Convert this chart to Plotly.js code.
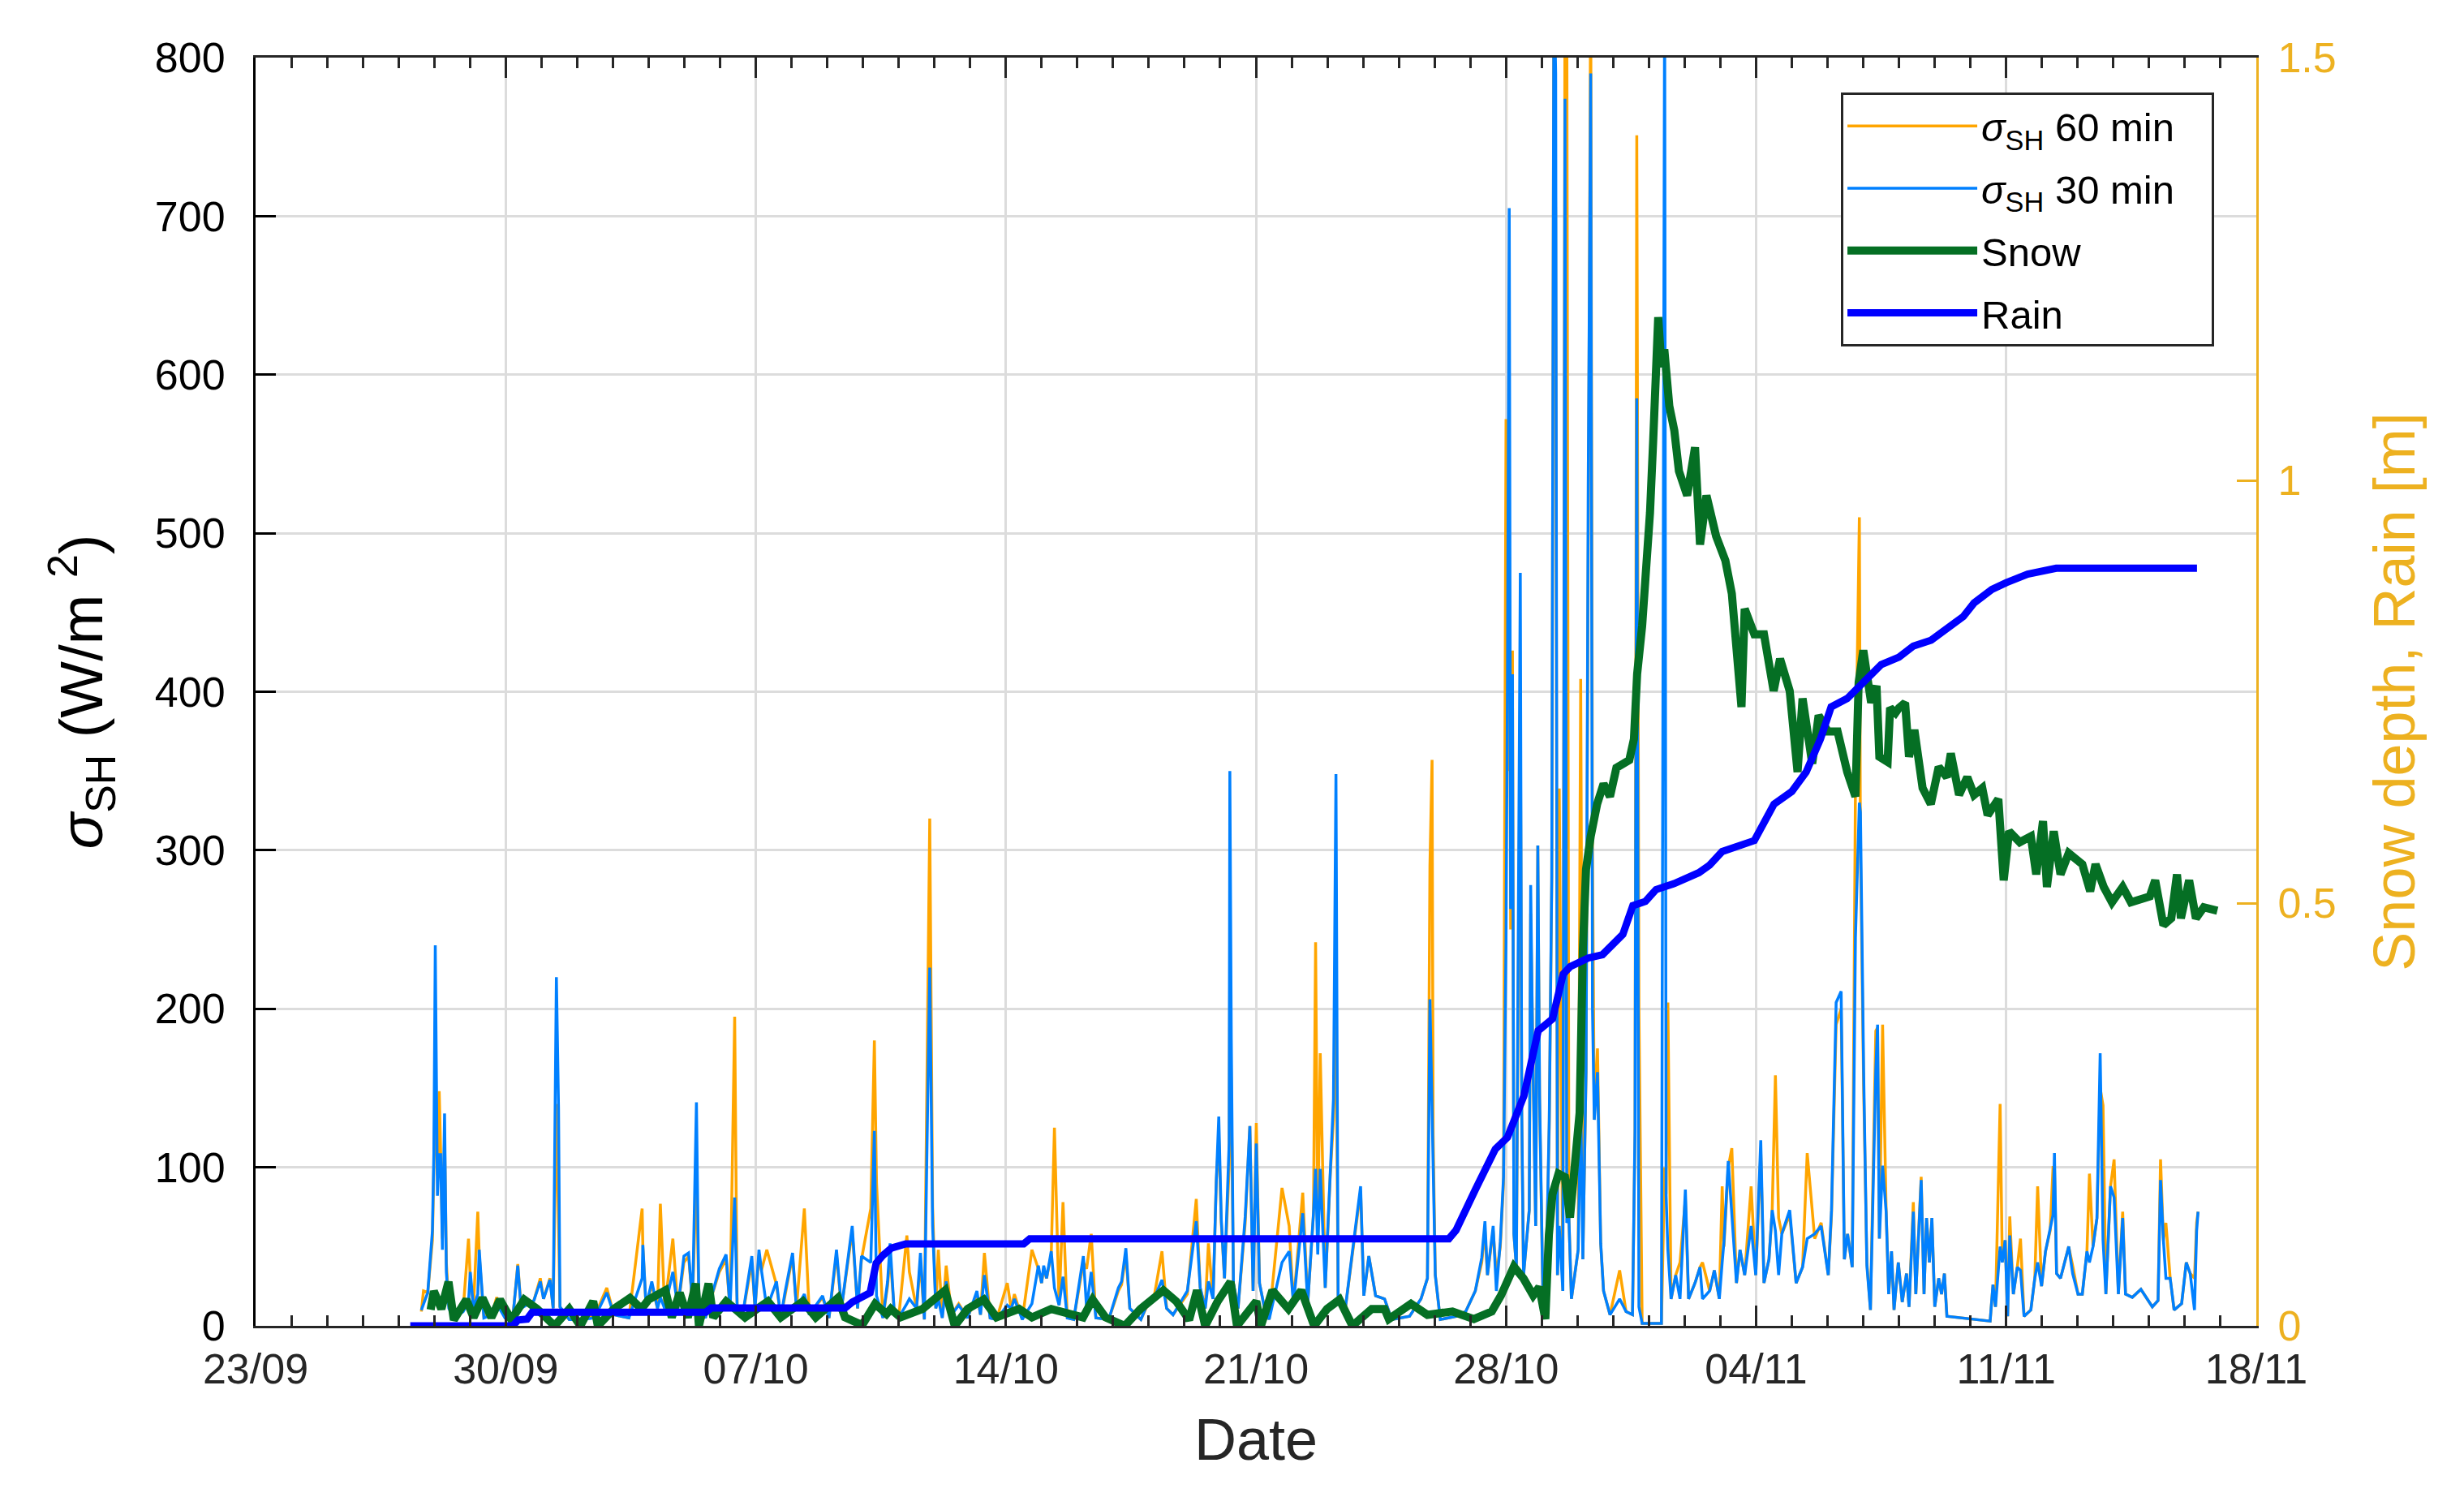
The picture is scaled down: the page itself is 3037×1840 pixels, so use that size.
<!DOCTYPE html>
<html>
<head>
<meta charset="utf-8">
<script src="https://cdn.plot.ly/plotly-3.0.1.min.js"></script>
<style>
  body { margin: 0; background: #fff; }
  #plot { width: 3037px; height: 1840px; }
</style>
</head>
<body>
<div id="plot"></div>
<script>
// all times are days after 23/09 00:00
// sigma_SH (W/m2), 30 min and 60 min
var sigDay = [4.64,4.70,4.82,4.95,4.99,5.03,5.09,5.14,5.18,5.23,5.29,5.34,5.41,5.55,5.81,5.96,6.01,6.10,6.22,6.26,6.39,6.62,6.75,6.98,7.20,7.34,7.43,7.79,7.97,8.06,8.24,8.33,8.42,8.48,8.52,8.78,9.13,9.49,9.83,10.03,10.45,10.82,10.84,10.93,11.09,11.25,11.33,11.45,11.68,11.82,11.99,12.12,12.23,12.34,12.41,12.59,12.73,12.98,13.17,13.28,13.41,13.48,13.62,13.89,13.98,14.09,14.16,14.31,14.58,14.70,14.81,15.03,15.14,15.36,15.50,15.87,16.05,16.26,16.40,16.70,16.85,16.96,17.22,17.32,17.38,17.56,17.69,17.76,17.87,18.00,18.23,18.30,18.50,18.61,18.72,18.87,18.95,19.04,19.11,19.22,19.33,19.48,19.68,19.93,20.19,20.29,20.40,20.56,20.74,21.04,21.15,21.24,21.46,21.73,21.91,22.00,22.06,22.14,22.27,22.36,22.49,22.60,22.72,22.90,23.17,23.26,23.39,23.52,23.88,24.15,24.24,24.36,24.47,24.78,25.00,25.14,25.37,25.50,25.68,26.08,26.33,26.44,26.58,26.67,26.80,26.89,26.96,27.03,27.12,27.25,27.27,27.31,27.37,27.50,27.70,27.83,27.92,28.01,28.10,28.24,28.37,28.73,28.93,29.05,29.31,29.45,29.61,29.67,29.73,29.80,29.94,30.08,30.17,30.24,30.30,30.48,30.93,31.02,31.16,31.35,31.60,31.80,32.30,32.62,32.80,32.87,32.93,32.96,33.02,33.16,33.60,33.87,34.14,34.32,34.41,34.48,34.64,34.73,34.84,34.93,35.00,35.04,35.09,35.13,35.18,35.22,35.29,35.40,35.44,35.49,35.65,35.69,35.74,35.83,35.89,35.94,36.03,36.12,36.21,36.28,36.34,36.39,36.44,36.49,36.59,36.65,36.70,36.76,36.83,37.02,37.09,37.15,37.24,37.30,37.37,37.42,37.47,37.56,37.65,37.73,37.91,38.18,38.36,38.54,38.61,38.66,38.72,38.81,39.35,39.44,39.48,39.53,39.62,39.75,39.87,40.02,40.11,40.29,40.43,40.50,40.70,40.83,40.97,41.05,41.10,41.22,41.32,41.45,41.55,41.68,41.86,41.99,42.13,42.22,42.36,42.45,42.54,42.63,42.72,42.94,43.12,43.30,43.43,43.64,43.82,44.02,44.11,44.24,44.38,44.47,44.56,44.69,44.78,44.89,44.92,45.01,45.10,45.20,45.35,45.40,45.45,45.54,45.64,45.71,45.79,45.86,45.98,46.09,46.21,46.28,46.40,46.47,46.62,46.70,46.77,46.85,46.92,47.00,47.11,47.19,47.27,47.34,48.55,48.63,48.70,48.83,48.89,48.97,49.04,49.10,49.20,49.31,49.40,49.50,49.69,49.80,49.88,49.99,50.10,50.23,50.31,50.35,50.41,50.52,50.63,50.75,50.86,51.01,51.13,51.26,51.33,51.43,51.54,51.63,51.71,51.79,51.92,52.02,52.14,52.26,52.34,52.53,52.77,53.09,53.25,53.32,53.40,53.47,53.59,53.70,53.91,54.04,54.15,54.27,54.33,54.37];
var sig30 = [9.9,14,21,60,109,240,82,108,108,48,134,34,11,5,9,15,34,11,20,48,5,7,14,5,5,38,11,16,28,17,29,11,220,137,12,4,4,5,21,7,5,30,51,12,28,11,18,11,34,11,44,46,14,141,11,5,16,36,45,11,81,11,5,44,11,48,35,11,28,5,20,46,11,20,7,19,5,48,11,63,11,44,40,123,19,5,28,52,11,5,14,17,11,46,4,226,63,11,17,5,28,7,13,5,22,7,32,5,4,13,11,17,4,14,38,27,38,30,47,24,13,31,5,4,44,11,34,5,4,24,28,49,11,4,16,17,29,11,7,22,66,24,11,28,17,91,132,67,30,115,350,181,27,11,69,126,22,115,27,11,4,40,47,14,71,14,71,99,45,99,24,98,143,348,19,7,88,19,44,19,17,4,6,17,30,206,140,94,32,4,6,9,22,43,66,32,63,22,53,94,242,406,705,263,411,58,37,475,135,32,73,278,186,63,303,145,22,27,130,283,850,790,32,63,22,774,65,68,17,48,142,42,160,529,790,200,130,160,52,22,7,17,9,7,124,585,12,1.5,1.5,850,83,48,17,32,17,86,17,27,37,17,22,35,17,40,53,104,68,27,48,32,63,32,117,27,42,73,60,32,58,73,27,37,55,58,63,32,73,204,211,42,58,37,245,330,324,160,38,10,161,190,55,101,72,20,47,10,40,15,33,12,72,20,92,20,68,40,68,12,30,20,33,6,3,26,12,50,40,54,6,57,20,37,35,6,10,30,40,25,47,60,70,109,33,30,40,50,33,20,20,47,40,50,68,172,54,20,88,81,20,68,20,18,23,12,16,92,54,30,30,10,14,40,33,10,60,72];
var sig60 = [9,22,21,54,100,150,95,148,110,55,120,40,12,6,10,55,30,12,72,45,6,8,18,6,5,39,12,16,30,17,30,11,140,60,12,4,4,6,24,7,5,74,50,12,26,11,77,11,55,11,40,44,14,100,11,5,16,34,42,11,195,11,5,40,11,45,35,48,26,5,18,44,11,74,7,18,5,45,11,60,11,42,74,180,90,5,25,45,11,5,57,34,11,40,4,320,75,11,48,5,38,7,14,5,20,7,46,5,4,27,11,20,4,48,36,27,36,30,45,125,13,78,5,4,40,36,58,5,4,22,26,45,11,4,15,17,47,11,7,20,80,24,11,52,17,91,120,65,30,100,230,160,27,11,65,126,22,128,27,11,4,87,63,14,84,14,70,242,60,172,24,95,130,200,19,7,85,19,44,19,17,4,6,17,30,290,357,120,32,4,6,9,22,40,60,32,60,32,50,90,572,350,500,250,426,58,37,400,130,32,73,260,180,63,303,140,22,27,125,280,850,700,32,339,22,850,850,68,17,48,408,42,160,500,850,300,130,175,52,22,7,35,9,7,120,751,200,1.5,1.5,100,83,204,17,32,40,80,17,27,37,40,22,35,17,88,50,100,112,27,48,32,88,32,110,27,42,73,158,68,58,70,27,37,109,55,65,32,70,190,200,42,58,37,339,510,300,150,40,10,186,188,55,190,72,20,47,10,40,15,33,12,78,20,94,20,68,40,68,12,30,20,33,6,3,26,12,140,40,54,6,69,20,37,55,6,10,30,88,25,47,60,100,100,33,30,40,50,38,20,20,47,96,50,68,150,139,20,88,105,20,72,20,18,23,12,16,105,54,65,30,10,14,40,33,30,65,72];

// snow depth (m)
var snowDay = [4.90,4.99,5.20,5.40,5.55,5.90,6.10,6.35,6.60,6.84,7.16,7.52,7.88,8.37,8.78,9.09,9.45,9.58,10.03,10.48,10.80,11.00,11.47,11.65,11.87,12.10,12.32,12.41,12.68,12.81,13.17,13.70,14.34,14.70,15.32,15.68,16.30,16.50,16.98,17.34,17.66,17.78,18.05,18.67,19.30,19.57,19.93,20.38,20.74,21.37,21.73,22.27,23.16,23.43,23.79,24.33,24.77,25.41,25.77,26.13,26.35,26.58,26.93,27.29,27.47,28.01,28.14,28.46,28.91,29.27,29.63,29.99,30.34,30.70,31.24,31.60,31.72,32.34,32.80,33.50,34.10,34.60,34.86,35.22,35.49,35.76,35.93,36.10,36.20,36.30,36.47,36.65,36.79,36.92,37.06,37.15,37.24,37.37,37.55,37.73,37.91,38.09,38.45,38.58,38.67,38.81,38.94,39.03,39.12,39.26,39.35,39.43,39.57,39.71,39.84,40.07,40.29,40.43,40.61,40.88,41.14,41.32,41.59,41.68,41.95,42.22,42.49,42.67,42.94,43.16,43.30,43.57,43.75,44.01,44.28,44.55,44.78,44.87,45.00,45.22,45.37,45.45,45.68,45.75,45.90,46.00,46.17,46.28,46.43,46.66,46.89,47.11,47.34,47.45,47.68,47.91,48.10,48.33,48.48,48.78,48.93,49.08,49.38,49.69,49.84,50.03,50.14,50.33,50.52,50.75,51.13,51.35,51.50,51.73,51.96,52.26,52.49,53.02,53.17,53.40,53.62,53.78,53.89,54.12,54.31,54.53,54.91];
var snowDepth = [0.019,0.041,0.020,0.052,0.007,0.031,0.010,0.033,0.010,0.031,0.007,0.031,0.020,0.000,0.020,0.000,0.029,0.000,0.020,0.033,0.020,0.031,0.042,0.010,0.039,0.010,0.050,0.000,0.050,0.010,0.029,0.010,0.029,0.010,0.029,0.010,0.033,0.010,0.001,0.026,0.014,0.020,0.010,0.020,0.042,0.000,0.020,0.031,0.010,0.020,0.010,0.020,0.010,0.031,0.010,0.000,0.020,0.042,0.029,0.007,0.042,0.000,0.029,0.052,0.000,0.029,0.000,0.042,0.020,0.042,0.000,0.020,0.031,0.000,0.020,0.020,0.008,0.026,0.013,0.017,0.008,0.017,0.036,0.070,0.056,0.036,0.046,0.008,0.108,0.156,0.180,0.176,0.128,0.195,0.252,0.444,0.540,0.579,0.617,0.641,0.626,0.660,0.669,0.694,0.771,0.828,0.905,0.962,1.048,1.193,1.134,1.155,1.088,1.059,1.011,0.982,1.039,0.924,0.982,0.934,0.905,0.866,0.732,0.848,0.818,0.818,0.751,0.789,0.751,0.655,0.742,0.665,0.722,0.703,0.703,0.655,0.626,0.761,0.799,0.737,0.757,0.673,0.667,0.731,0.725,0.731,0.737,0.673,0.705,0.636,0.617,0.661,0.649,0.677,0.628,0.649,0.628,0.636,0.604,0.623,0.527,0.585,0.572,0.579,0.534,0.597,0.519,0.585,0.534,0.559,0.546,0.514,0.546,0.519,0.501,0.519,0.501,0.508,0.527,0.474,0.482,0.534,0.482,0.527,0.482,0.495,0.491];

// cumulative rain (m)
var rainDay = [4.33,7.20,7.35,7.60,7.74,12.60,12.75,16.50,16.70,17.20,17.37,17.55,17.80,18.00,18.20,21.50,21.67,33.40,33.60,34.14,34.70,35.04,35.50,35.90,36.30,36.60,36.80,37.30,37.70,38.27,38.55,38.90,39.20,39.70,40.10,40.40,40.70,41.05,41.95,42.20,42.50,43.00,43.40,43.80,44.10,44.55,45.00,45.50,46.00,46.40,46.90,47.30,47.80,48.10,48.60,49.00,49.60,50.40,54.34];
var rainSum = [0,0,0.007,0.008,0.016,0.016,0.021,0.021,0.028,0.039,0.074,0.083,0.092,0.095,0.097,0.097,0.103,0.103,0.113,0.161,0.209,0.223,0.272,0.349,0.363,0.416,0.425,0.435,0.439,0.463,0.497,0.502,0.516,0.523,0.531,0.536,0.545,0.561,0.574,0.593,0.617,0.632,0.655,0.694,0.732,0.742,0.761,0.782,0.791,0.804,0.811,0.823,0.839,0.855,0.871,0.879,0.889,0.896,0.896];

var start = Date.UTC(2016, 8, 23);
function toDate(d) {
  return new Date(start + d * 86400000).toISOString().slice(0, 19).replace('T', ' ');
}

var axisOrange = '#EDB120';
var dark = '#262626';
var DAY = 86400000;
var pad = '\u00a0\u00a0\u00a0';

var data = [
  {x: sigDay.map(toDate), y: sig60, type: 'scatter', mode: 'lines', legendgroup: 'a',
   name: '<i>σ</i><sub>SH</sub> 60 min' + pad, line: {color: '#FFA500', width: 3.5}},
  {x: sigDay.map(toDate), y: sig30, type: 'scatter', mode: 'lines', legendgroup: 'b',
   name: '<i>σ</i><sub>SH</sub> 30 min', line: {color: '#0080FF', width: 3.5}},
  {x: snowDay.map(toDate), y: snowDepth, type: 'scatter', mode: 'lines', yaxis: 'y2', legendgroup: 'c',
   name: 'Snow', line: {color: '#056F24', width: 10}},
  {x: rainDay.map(toDate), y: rainSum, type: 'scatter', mode: 'lines', yaxis: 'y2', legendgroup: 'd',
   name: 'Rain', line: {color: '#0000FF', width: 9}}
];

var layout = {
  width: 3037,
  height: 1840,
  margin: {l: 315, r: 256, t: 71, b: 206},
  paper_bgcolor: '#fff',
  plot_bgcolor: '#fff',
  font: {family: 'Liberation Sans, Arial, sans-serif', size: 52, color: '#000'},
  showlegend: true,
  legend: {
    x: 0.7924, y: 0.9725, xanchor: 'left', yanchor: 'top',
    bgcolor: '#fff', bordercolor: dark, borderwidth: 3,
    font: {size: 49, color: '#000'}, itemwidth: 160, tracegroupgap: 10
  },
  xaxis: {
    type: 'date',
    range: ['2016-09-23', '2016-11-18'],
    tick0: '2016-09-23',
    dtick: 7 * DAY,
    tickformat: '%d/%m',
    ticks: 'inside', ticklen: 25, tickwidth: 3, tickcolor: dark,
    showline: true, linecolor: dark, linewidth: 3, mirror: 'ticks',
    showgrid: true, gridcolor: '#dcdcdc', gridwidth: 3,
    zeroline: false,
    tickfont: {size: 52, color: dark},
    ticklabelstandoff: 6,
    minor: {ticks: 'inside', ticklen: 13, tickwidth: 3, tickcolor: dark, dtick: DAY, showgrid: false},
    title: {text: 'Date', font: {size: 72, color: dark}, standoff: 34}
  },
  yaxis: {
    range: [0, 800],
    dtick: 100,
    ticks: 'inside', ticklen: 25, tickwidth: 3, tickcolor: '#000',
    showline: true, linecolor: '#000', linewidth: 3,
    showgrid: true, gridcolor: '#dcdcdc', gridwidth: 3,
    zeroline: false,
    tickfont: {size: 52, color: '#000'},
    ticklabelstandoff: 24,
    title: {text: '<i>σ</i><sub>SH</sub> (W/m <sup>2</sup>)', font: {size: 74, color: '#000'}, standoff: 40}
  },
  yaxis2: {
    overlaying: 'y',
    side: 'right',
    range: [0, 1.5],
    dtick: 0.5,
    ticks: 'inside', ticklen: 24, tickwidth: 3, tickcolor: axisOrange,
    showline: true, linecolor: axisOrange, linewidth: 3,
    showgrid: false, zeroline: false,
    tickfont: {size: 52, color: axisOrange},
    ticklabelstandoff: 13,
    title: {text: 'Snow depth, Rain [m]', font: {size: 72, color: axisOrange}, standoff: 47}
  }
};

Plotly.newPlot('plot', data, layout, {staticPlot: true});
</script>
</body>
</html>
